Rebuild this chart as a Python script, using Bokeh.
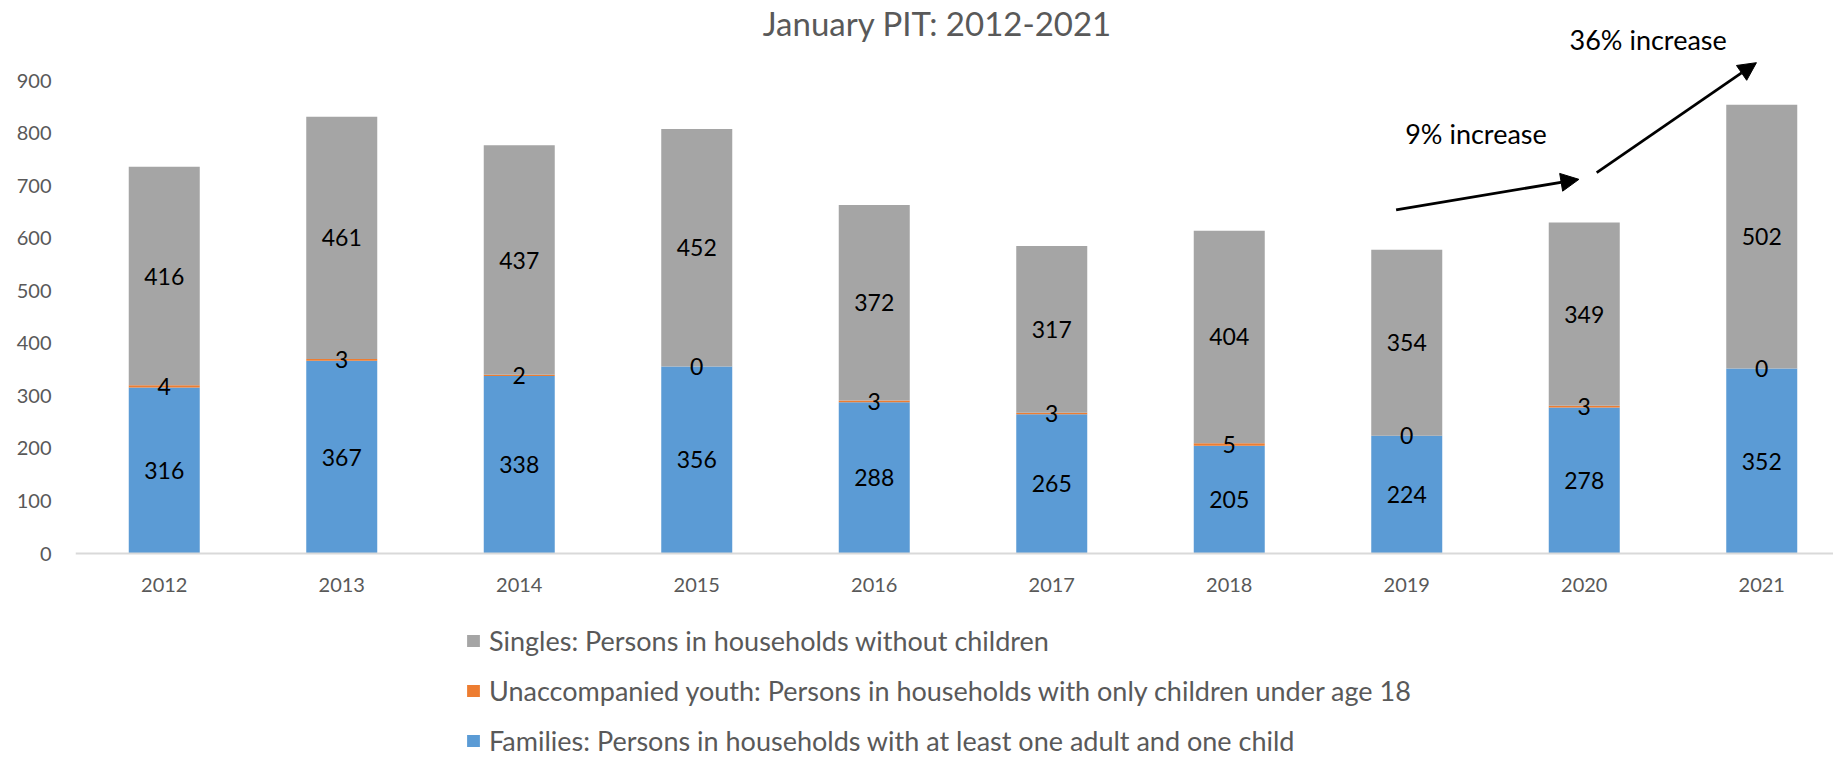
from bokeh.plotting import figure
from bokeh.models import (Range1d, FixedTicker, ColumnDataSource, Legend, LegendItem,
                          Arrow, NormalHead, Label)
from bokeh.core.properties import value
from bokeh.embed import file_html
from bokeh.resources import INLINE

# ---- data ----
years = [2012, 2013, 2014, 2015, 2016, 2017, 2018, 2019, 2020, 2021]
year_labels = ["2012", "2013", "2014", "2015", "2016", "2017", "2018", "2019", "2020", "2021"]
families = [316, 367, 338, 356, 288, 265, 205, 224, 278, 352]
youth = [4, 3, 2, 0, 3, 3, 5, 0, 3, 0]
singles = [416, 461, 437, 452, 372, 317, 404, 354, 349, 502]
y_ticks = [0, 100, 200, 300, 400, 500, 600, 700, 800, 900]

name_families = "Families: Persons in households with at least one adult and one child"
name_youth = "Unaccompanied youth: Persons in households with only children under age 18"
name_singles = "Singles: Persons in households without children"
title_text = "January PIT: 2012-2021"

ann_small = "9% increase"
ann_big = "36% increase"

# ---- styling / geometry ----
FONT = "Lato"
C_FAM = "#5B9BD5"
C_YOU = "#ED7D31"
C_SIN = "#A5A5A5"
GREY_TXT = "#595959"

W, H = 1833, 758
LEFT = 75                 # frame left edge (px)
BAND_PX = 177.5           # px per category
PX_PER_UNIT = 0.5255      # px per value unit
ZERO_Y = 553              # px of value 0 from top
x_start = years[0] - 0.5
x_end = x_start + (W - LEFT) / BAND_PX
y_start = -(H - ZERO_Y) / PX_PER_UNIT
y_end = ZERO_Y / PX_PER_UNIT

p = figure(width=W, height=H, output_backend="svg", toolbar_location=None,
           x_range=Range1d(x_start, x_end), y_range=Range1d(y_start, y_end),
           min_border_left=LEFT, min_border_right=0, min_border_bottom=0,
           min_border_top=0, title=None)
p.outline_line_color = None
p.background_fill_color = "white"
p.border_fill_color = "white"
p.grid.grid_line_color = None

# stacked bars
top_you = [f + y for f, y in zip(families, youth)]
top_sin = [t + s for t, s in zip(top_you, singles)]
src = ColumnDataSource(dict(x=years, fam=families, you_t=top_you, sin_t=top_sin))
r_fam = p.vbar(x="x", width=0.4, bottom=0, top="fam", source=src,
               fill_color=C_FAM, line_color=None)
r_you = p.vbar(x="x", width=0.4, bottom="fam", top="you_t", source=src,
               fill_color=C_YOU, line_color=None)
r_sin = p.vbar(x="x", width=0.4, bottom="you_t", top="sin_t", source=src,
               fill_color=C_SIN, line_color=None)

# data labels at segment centres
lab_x, lab_y, lab_t = [], [], []
for i, yr in enumerate(years):
    lab_x += [yr, yr, yr]
    lab_y += [families[i] / 2, families[i] + youth[i] / 2,
              top_you[i] + singles[i] / 2]
    lab_t += [str(families[i]), str(youth[i]), str(singles[i])]
lsrc = ColumnDataSource(dict(x=lab_x, y=lab_y, t=lab_t))
p.text(x="x", y="y", text="t", source=lsrc, text_align="center",
       text_baseline="middle", text_font=value(FONT), text_font_size="23px",
       text_color="black")

# x axis sits at value 0 inside the frame
p.xaxis.fixed_location = 0
p.xaxis.ticker = FixedTicker(ticks=years)
p.xaxis.major_label_overrides = {yr: lab for yr, lab in zip(years, year_labels)}
p.xaxis.axis_line_color = "#D9D9D9"
p.xaxis.axis_line_width = 2
p.xaxis.major_tick_line_color = None
p.xaxis.minor_tick_line_color = None
p.xaxis.major_label_standoff = 18
p.xaxis.major_label_text_font = FONT
p.xaxis.major_label_text_font_size = "20px"
p.xaxis.major_label_text_color = GREY_TXT

p.yaxis.ticker = FixedTicker(ticks=y_ticks)
p.yaxis.axis_line_color = None
p.yaxis.major_tick_line_color = None
p.yaxis.minor_tick_line_color = None
p.yaxis.major_label_standoff = 18
p.yaxis.major_label_text_font = FONT
p.yaxis.major_label_text_font_size = "20px"
p.yaxis.major_label_text_color = GREY_TXT

# title
p.add_layout(Label(x=2016.356, y=1008.6, text=title_text, text_align="center",
                   text_baseline="middle", text_font=FONT, text_font_size="33px",
                   text_color=GREY_TXT))

# arrows and annotation texts
head1 = NormalHead(size=18, fill_color="black", line_color="black")
head2 = NormalHead(size=18, fill_color="black", line_color="black")
p.add_layout(Arrow(end=head1, x_start=2018.94, y_start=654, x_end=2019.97, y_end=712,
                   line_color="black", line_width=2.75))
p.add_layout(Arrow(end=head2, x_start=2020.07, y_start=725, x_end=2020.97, y_end=934,
                   line_color="black", line_width=2.75))
p.add_layout(Label(x=2019.39, y=800, text=ann_small, text_align="center",
                   text_baseline="middle", text_font=FONT, text_font_size="27px",
                   text_color="black"))
p.add_layout(Label(x=2020.36, y=978, text=ann_big, text_align="center",
                   text_baseline="middle", text_font=FONT, text_font_size="27px",
                   text_color="black"))

# legend (inside the frame, below the axis)
legend = Legend(items=[LegendItem(label=name_singles, renderers=[r_sin]),
                       LegendItem(label=name_youth, renderers=[r_you]),
                       LegendItem(label=name_families, renderers=[r_fam])],
                location=(390, -7), orientation="vertical")
legend.border_line_color = None
legend.background_fill_alpha = 0
legend.padding = 0
legend.margin = 0
legend.spacing = 0
legend.glyph_width = 16
legend.glyph_height = 15
legend.label_height = 50
legend.label_standoff = 8
legend.label_text_font = FONT
legend.label_text_font_size = "27px"
legend.label_text_color = GREY_TXT
legend.label_text_baseline = "middle"
p.add_layout(legend, "center")

open("out.html", "w").write(file_html(p, INLINE))
